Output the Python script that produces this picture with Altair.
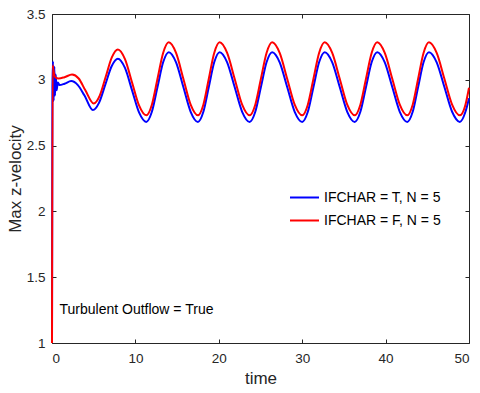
import altair as alt
import pandas as pd

FONT = "Liberation Sans"
INK = "#262626"

series_names = ["IFCHAR = T, N = 5", "IFCHAR = F, N = 5"]
series_colors = ["#0000ff", "#ff0000"]

blue_t = [0.0, 0.05, 0.12, 0.2, 0.28, 0.36, 0.45, 0.55, 0.7, 0.9, 1.5, 2.3, 3.1, 3.9,
          4.9, 5.65, 6.4, 7.15, 7.9, 8.75, 9.6, 10.45, 11.3,
          11.975, 12.65, 13.325, 14.0, 14.875, 15.75, 16.625, 17.5,
          18.15, 18.8, 19.45, 20.1, 21.0, 21.9, 22.8, 23.7,
          24.375, 25.05, 25.725, 26.4, 27.3, 28.2, 29.1, 30.0,
          30.675, 31.35, 32.025, 32.7, 33.6, 34.5, 35.4, 36.3,
          36.975, 37.65, 38.325, 39.0, 39.9, 40.8, 41.7, 42.6,
          43.25, 43.9, 44.55, 45.2, 46.125, 47.05, 47.975, 48.9,
          49.575, 50.0]
blue_v = [1.0, 2.95, 3.14, 2.84, 3.10, 2.88, 3.04, 2.92, 2.98, 2.96, 2.97, 2.99, 2.96, 2.88,
          2.77, 2.827, 2.965, 3.103, 3.16, 3.09, 2.92, 2.75, 2.68,
          2.757, 2.945, 3.133, 3.21, 3.133, 2.945, 2.757, 2.68,
          2.757, 2.945, 3.133, 3.21, 3.133, 2.945, 2.757, 2.68,
          2.757, 2.945, 3.133, 3.21, 3.133, 2.945, 2.757, 2.68,
          2.757, 2.945, 3.133, 3.21, 3.133, 2.945, 2.757, 2.68,
          2.757, 2.945, 3.133, 3.21, 3.133, 2.945, 2.757, 2.68,
          2.757, 2.945, 3.133, 3.21, 3.133, 2.945, 2.757, 2.68,
          2.757, 2.86]

red_t = [0.0, 0.08, 0.2, 0.4, 0.8, 1.5, 2.4, 3.2, 4.0,
         5.0, 5.725, 6.45, 7.175, 7.9, 8.75, 9.6, 10.45, 11.3,
         11.975, 12.65, 13.325, 14.0, 14.875, 15.75, 16.625, 17.5,
         18.15, 18.8, 19.45, 20.1, 21.0, 21.9, 22.8, 23.7,
         24.375, 25.05, 25.725, 26.4, 27.3, 28.2, 29.1, 30.0,
         30.675, 31.35, 32.025, 32.7, 33.6, 34.5, 35.4, 36.3,
         36.975, 37.65, 38.325, 39.0, 39.9, 40.8, 41.7, 42.6,
         43.25, 43.9, 44.55, 45.2, 46.125, 47.05, 47.975, 48.9,
         49.575, 50.0]
red_v = [1.0, 3.11, 3.06, 3.02, 3.01, 3.02, 3.04, 3.01, 2.92,
         2.82, 2.88, 3.025, 3.17, 3.23, 3.157, 2.98, 2.803, 2.73,
         2.811, 3.008, 3.204, 3.285, 3.204, 3.008, 2.811, 2.73,
         2.811, 3.008, 3.204, 3.285, 3.204, 3.008, 2.811, 2.73,
         2.811, 3.008, 3.204, 3.285, 3.204, 3.008, 2.811, 2.73,
         2.811, 3.008, 3.204, 3.285, 3.204, 3.008, 2.811, 2.73,
         2.811, 3.008, 3.204, 3.285, 3.204, 3.008, 2.811, 2.73,
         2.811, 3.008, 3.204, 3.285, 3.204, 3.008, 2.811, 2.73,
         2.811, 2.94]

note_text = ["Turbulent Outflow = True"]
note_t = [0.9]
note_v = [1.25]

x_ticks = [0, 10, 20, 30, 40, 50]
y_ticks = [1, 1.5, 2, 2.5, 3, 3.5]

blue_df = pd.DataFrame({"time": blue_t, "v": blue_v, "series": series_names[0]})
red_df = pd.DataFrame({"time": red_t, "v": red_v, "series": series_names[1]})
note_df = pd.DataFrame({"time": note_t, "v": note_v, "label": note_text})

xs = alt.Scale(domain=[0, 50], nice=False, zero=False)
ys = alt.Scale(domain=[1, 3.5], nice=False, zero=False)

ax_common = dict(
    grid=False, domain=False, tickSize=4, offset=-4, tickColor=INK, tickWidth=1,
    labelColor=INK, labelFontSize=13.5, labelFont=FONT,
    titleFont=FONT, titleFontSize=17, titleColor=INK, titleFontWeight="normal",
)

color = alt.Color(
    "series:N",
    scale=alt.Scale(domain=series_names, range=series_colors),
    legend=alt.Legend(
        title=None, orient="none", legendX=237, legendY=168, padding=0,
        symbolType="stroke", symbolSize=841, symbolStrokeWidth=2,
        labelFont=FONT, labelFontSize=14, labelColor="#000000", labelOffset=4,
        rowPadding=-12,
    ),
)

blue = alt.Chart(blue_df).mark_line(strokeWidth=2, interpolate="monotone").encode(
    x=alt.X("time:Q", scale=xs,
            axis=alt.Axis(values=x_ticks, title="time", orient="bottom",
                          labelPadding=8, titlePadding=6, **ax_common)),
    y=alt.Y("v:Q", scale=ys,
            axis=alt.Axis(values=y_ticks, format="~g", title="Max z-velocity",
                          orient="left", labelPadding=7, titlePadding=2, **ax_common)),
    color=color,
)

red = alt.Chart(red_df).mark_line(strokeWidth=2, interpolate="monotone").encode(
    x=alt.X("time:Q", scale=xs, axis=None),
    y=alt.Y("v:Q", scale=ys, axis=None),
    color=color,
)

note = alt.Chart(note_df).mark_text(
    align="left", baseline="middle", fontSize=14, font=FONT, color="#000000"
).encode(
    x=alt.X("time:Q", scale=xs,
            axis=alt.Axis(values=x_ticks, orient="top", labels=False, title=None, **ax_common)),
    y=alt.Y("v:Q", scale=ys,
            axis=alt.Axis(values=y_ticks, orient="right", labels=False, title=None, **ax_common)),
    text="label:N",
)

chart = (
    alt.layer(blue, red, note)
    .resolve_axis(x="independent", y="independent")
    .properties(
        width=417, height=329,
        padding={"left": 52, "top": 14, "right": 11, "bottom": 50},
        autosize=alt.AutoSizeParams(type="none"),
        background="white",
    )
    .configure_view(stroke=INK, strokeWidth=1)
)

chart.save("out.html", embed_options={"renderer": "svg", "actions": False})
